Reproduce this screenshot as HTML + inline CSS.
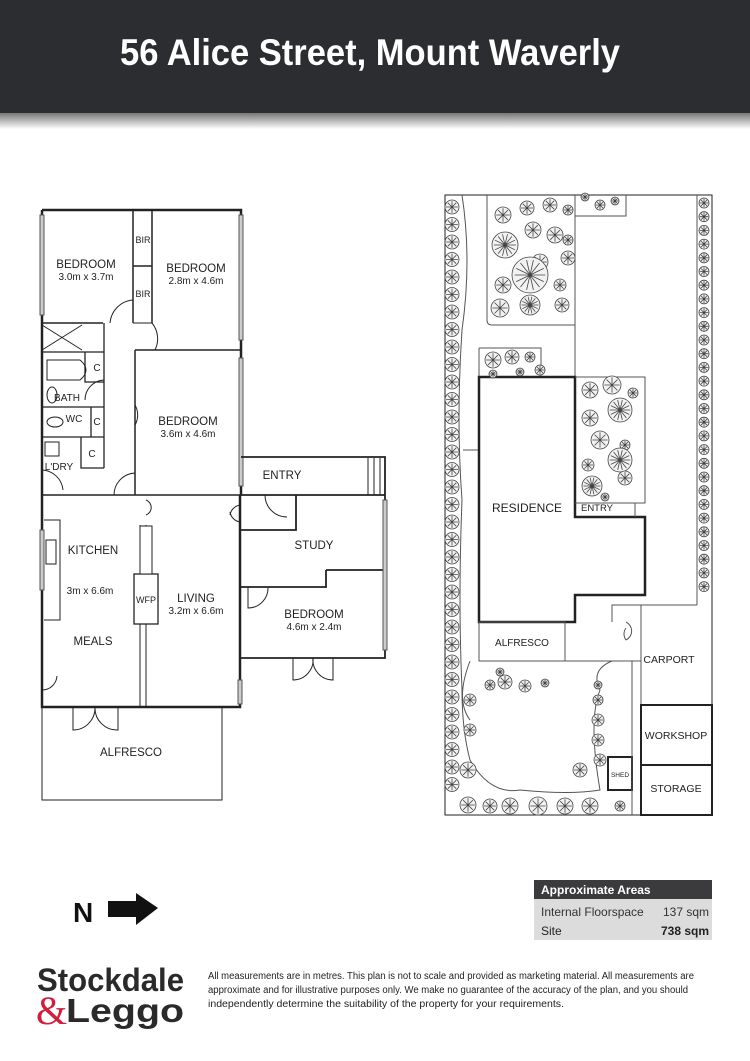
<!DOCTYPE html>
<html><head><meta charset="utf-8"><style>
html,body{margin:0;padding:0;background:#fff;}
svg{display:block}
text{font-family:"Liberation Sans",sans-serif;fill:#222}
</style></head><body>
<svg id="s" width="750" height="1061" viewBox="0 0 750 1061" xmlns="http://www.w3.org/2000/svg">
<defs>
<linearGradient id="sh" x1="0" y1="0" x2="0" y2="1"><stop offset="0" stop-color="#777"/><stop offset="1" stop-color="#fff"/></linearGradient>
</defs>
<rect x="0" y="0" width="750" height="113" fill="#2c2d30"/>
<rect x="0" y="113" width="750" height="16" fill="url(#sh)"/>
<text x="370" y="65" text-anchor="middle" font-size="37" font-weight="bold" style="fill:#fff" textLength="500" lengthAdjust="spacingAndGlyphs">56 Alice Street, Mount Waverly</text>

<g fill="none" stroke="#222" stroke-width="1">
<path d="M42 210 H241 V495" stroke-width="2.5"/>
<path d="M42 210 V707 H240 V495" stroke-width="2.5"/>
<rect x="40" y="215" width="4" height="100" fill="#ccc" stroke="#555"/>
<rect x="239" y="215" width="4" height="125" fill="#ccc" stroke="#555"/>
<rect x="239" y="358" width="4" height="128" fill="#ccc" stroke="#555"/>
<path d="M133 210 V323 M152 210 V323 M133 266 H152 M42 323 H103 M135 350 H241 M135 350 V495 M42 495 H241" stroke-width="1.5"/>
<path d="M133 323 H152"/>
<path d="M104 323 V468 M42 352 H104 M42 407 H104 M42 437 H104 M81 437 V468 H104 M85 352 V382 H104 M91 407 V437" stroke-width="1.3"/>
<path d="M47 360 H80 Q92 370 80 380 H47 Z"/>
<ellipse cx="52" cy="395" rx="5" ry="8"/>
<ellipse cx="55" cy="422" rx="8" ry="5"/>
<rect x="45" y="442" width="14" height="14"/>
<path d="M42 325 L82 350 M82 325 L42 350"/>
<path d="M133 300 A25 25 0 0 0 110 323 M155 350 A25 25 0 0 0 152 323 M104 380 A20 20 0 0 0 85 400 M135 405 A20 20 0 0 1 135 425 M114 495 A22 22 0 0 1 135 473 M42 470 A22 22 0 0 1 63 490"/>
<path d="M241 457 H385 V658 H240 M296 495 V530 H240 M241 495 H385 M326 570 H385 M326 570 V587 H240" stroke-width="1.8"/>
<rect x="383" y="500" width="4" height="150" fill="#ccc" stroke="#555"/>
<path d="M368 458 V495 M374 458 V495 M380 458 V495"/>
<path d="M265 495 A22 22 0 0 0 287 517 M240 505 A12 12 0 0 0 230 515 M240 522 A12 12 0 0 1 230 512 M248 587 V608 A20 20 0 0 0 268 587 M293 658 V680 A20 20 0 0 0 313 658 M333 658 V680 A20 20 0 0 1 313 658"/>
<path d="M140 525 V707 M146 525 V707" />
<rect x="134" y="574" width="24" height="50" fill="#fff" stroke-width="1.3"/>
<rect x="140" y="526" width="12" height="48" fill="#fff"/>
<path d="M44 520 H60 V620 H44"/>
<rect x="46" y="540" width="10" height="24"/>
<rect x="40" y="530" width="4" height="60" fill="#ccc" stroke="#555"/>
<rect x="238" y="680" width="4" height="24" fill="#ccc" stroke="#555"/>
<path d="M42 690 A15 15 0 0 0 57 676 M73 707 V730 A22 22 0 0 0 95 707 M118 707 V730 A22 22 0 0 1 95 707 M146 500 A8 8 0 0 1 146 515"/>
<rect x="42" y="707" width="180" height="93"/>
<rect x="445" y="195" width="267" height="620"/>
<path d="M487 195 V320 Q487 325 492 325 H575 V195 M575 216 H626 V195 M463 450 H479 M575 377 V195 M697 195 V605 M641 605 H697 M641 605 V705 M612 622 V605 H641 M565 661 H641 V622 M479 348 H541 V377 M479 348 V377" stroke="#555"/>
<path d="M479 377 H575 V517 H645 V595 H575 V622 H479 Z" stroke-width="2.5"/>
<path d="M575 503 H645 V377 H575 M635 503 V517" stroke="#555"/>
<rect x="479" y="622" width="86" height="39" stroke="#555"/>
<path d="M626 622 A10 10 0 0 1 626 640 M626 640 A10 10 0 0 1 626 628" stroke="#555"/>
<rect x="641" y="705" width="71" height="60" stroke-width="2"/>
<rect x="641" y="765" width="71" height="50" stroke-width="2"/>
<rect x="608" y="757" width="24" height="33" stroke-width="2"/>
<path d="M632 661 V815" stroke="#555"/>
<path d="M462 195 Q472 260 462 330 Q456 420 462 500 Q458 600 462 690 Q462 730 470 760 Q490 795 520 790 Q570 795 600 790 Q588 720 600 690 Q590 670 612 661" stroke="#555"/>
<path d="M470 661 Q455 700 470 720" stroke="#555"/>
</g>
<g id="trees" fill="#f2f2f2" stroke="#444" stroke-width="0.8"></g>
<g font-size="11.5" text-anchor="middle">
<text x="86" y="268">BEDROOM</text><text x="86" y="280" font-size="10">3.0m x 3.7m</text>
<text x="196" y="272">BEDROOM</text><text x="196" y="284" font-size="10">2.8m x 4.6m</text>
<text x="143" y="243" font-size="9">BIR</text><text x="143" y="297" font-size="9">BIR</text>
<text x="188" y="425">BEDROOM</text><text x="188" y="437" font-size="10">3.6m x 4.6m</text>
<text x="67" y="401" font-size="10">BATH</text><text x="74" y="422" font-size="10">WC</text>
<text x="97" y="371" font-size="10">C</text><text x="97" y="425" font-size="10">C</text><text x="92" y="457" font-size="10">C</text>
<text x="59" y="470" font-size="10">L'DRY</text>
<text x="282" y="479">ENTRY</text>
<text x="93" y="554">KITCHEN</text><text x="90" y="594" font-size="10">3m x 6.6m</text>
<text x="93" y="645">MEALS</text>
<text x="146" y="603" font-size="9">WFP</text>
<text x="196" y="602">LIVING</text><text x="196" y="614" font-size="10">3.2m x 6.6m</text>
<text x="314" y="549">STUDY</text>
<text x="314" y="618">BEDROOM</text><text x="314" y="630" font-size="10">4.6m x 2.4m</text>
<text x="131" y="756">ALFRESCO</text>
<text x="527" y="512" font-size="12">RESIDENCE</text>
<text x="597" y="511" font-size="9.5">ENTRY</text>
<text x="522" y="646" font-size="10">ALFRESCO</text>
<text x="669" y="663" font-size="10.5">CARPORT</text>
<text x="676" y="739" font-size="10.5">WORKSHOP</text>
<text x="676" y="792" font-size="10.5">STORAGE</text>
<text x="620" y="777" font-size="6.5">SHED</text>
</g>
<text x="73" y="922" font-size="28" font-weight="bold" style="fill:#111">N</text>
<path d="M108 901 H136 V893 L158 908 L136 925 V917 H108 Z" fill="#111"/>
<rect x="534" y="880" width="178" height="19" fill="#3b3b3d"/>
<rect x="534" y="899" width="178" height="41" fill="#dcdcdc"/>
<text x="541" y="894" font-size="12" font-weight="bold" style="fill:#fff">Approximate Areas</text>
<text x="541" y="916" font-size="12" style="fill:#333">Internal Floorspace</text>
<text x="709" y="916" font-size="12" text-anchor="end" style="fill:#333">137 sqm</text>
<text x="541" y="935" font-size="12" style="fill:#222">Site</text>
<text x="709" y="935" font-size="12" font-weight="bold" text-anchor="end" style="fill:#222">738 sqm</text>
<text x="37" y="991" font-size="32" font-weight="bold" style="fill:#2a2a2a" textLength="147" lengthAdjust="spacingAndGlyphs">Stockdale</text>
<text x="36" y="1024" font-size="40" style="fill:#d31d3b;font-family:'Liberation Serif',serif">&amp;</text>
<text x="66" y="1022" font-size="33" font-weight="bold" style="fill:#2a2a2a" textLength="118" lengthAdjust="spacingAndGlyphs">Leggo</text>
<g font-size="10" style="fill:#333">
<text x="208" y="979" textLength="486" lengthAdjust="spacingAndGlyphs">All measurements are in metres. This plan is not to scale and provided as marketing material. All measurements are</text>
<text x="208" y="993" textLength="480" lengthAdjust="spacingAndGlyphs">approximate and for illustrative purposes only. We make no guarantee of the accuracy of the plan, and you should</text>
<text x="208" y="1007" textLength="356" lengthAdjust="spacingAndGlyphs">independently determine the suitability of the property for your requirements.</text>
</g>
</svg>
<script>
var g=document.getElementById('trees'),ns='http://www.w3.org/2000/svg';
function t(x,y,r){var c=document.createElementNS(ns,'circle');c.setAttribute('cx',x);c.setAttribute('cy',y);c.setAttribute('r',r);g.appendChild(c);
var p='';var n=r>9?14:8;for(var i=0;i<n;i++){var a=i*2*Math.PI/n;p+='M'+x+' '+y+'L'+(x+Math.cos(a)*r*0.85).toFixed(1)+' '+(y+Math.sin(a)*r*0.85).toFixed(1);}
var q=document.createElementNS(ns,'path');q.setAttribute('d',p);q.setAttribute('fill','none');g.appendChild(q);}
for(var y=207;y<800;y+=17.5){t(452,y,7);}
for(var y=203;y<600;y+=13.7){t(704,y,5);}
var L=[[503,215,8],[527,208,7],[550,205,7],[568,210,5],[505,245,13],[533,230,8],[555,235,8],[568,258,7],[540,262,8],[503,285,8],[530,275,18],[560,285,6],[500,308,9],[530,305,10],[562,305,7],[568,240,5],
[585,197,4],[600,205,5],[615,201,4],[493,360,8],[512,357,7],[530,357,5],[540,370,5],[520,372,4],[493,374,4],
[590,390,8],[612,385,9],[633,393,5],[590,418,8],[620,410,12],[600,440,9],[625,445,5],[588,465,6],[620,460,12],[592,486,10],[625,478,7],[605,497,4],
[490,685,5],[505,682,7],[525,686,6],[545,683,4],[500,672,4],[598,685,4],[598,700,5],[598,720,6],[598,740,6],[600,760,6],[580,770,7],[470,700,6],[470,730,6],[468,770,8],[468,805,8],[490,806,7],[510,806,8],[538,806,9],[565,806,8],[590,806,8],[620,806,5]];
L.forEach(function(a){t(a[0],a[1],a[2]);});
</script>
</body></html>
